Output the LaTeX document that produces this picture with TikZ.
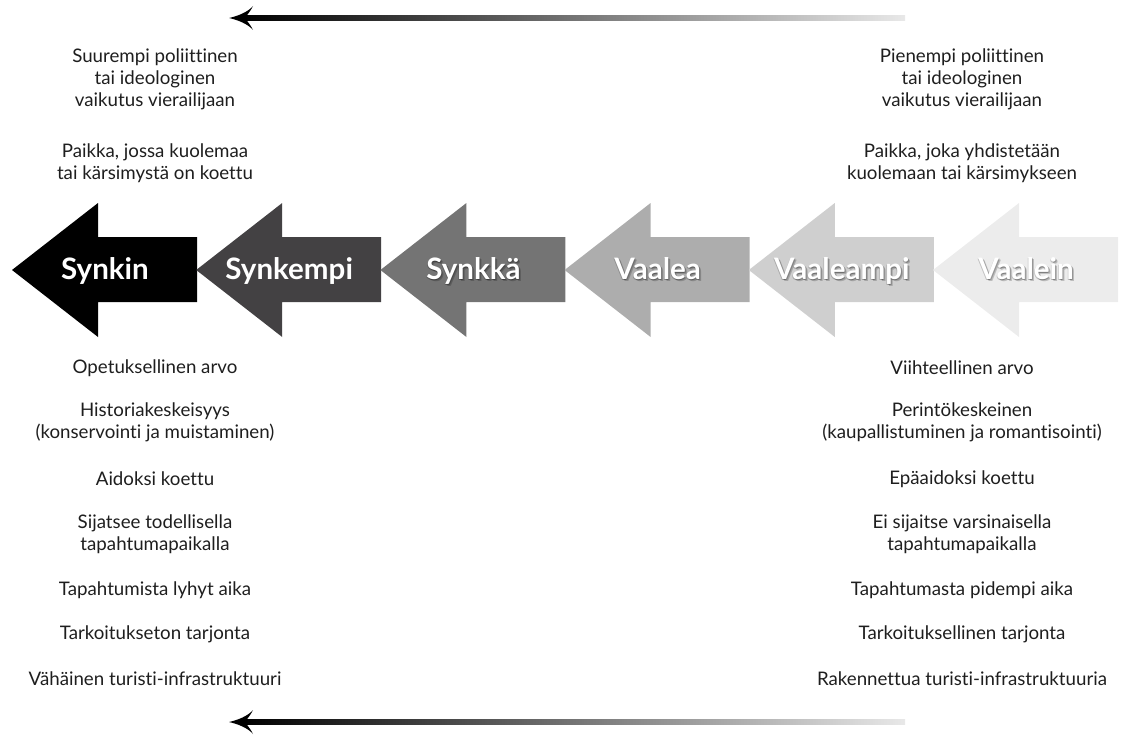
\documentclass[tikz,border=0pt]{standalone}
\usepackage{fontspec}
\setmainfont{Lato}[Ligatures=NoCommon]
\usetikzlibrary{calc}

\definecolor{tone0}{HTML}{000000}
\definecolor{tone1}{HTML}{434143}
\definecolor{tone2}{HTML}{747474}
\definecolor{tone3}{HTML}{ADADAD}
\definecolor{tone4}{HTML}{CFCFCF}
\definecolor{tone5}{HTML}{ECECEC}
\definecolor{ink}{HTML}{1E1E1E}

\tikzset{
  side/.style={font=\fontsize{13.3}{15.6}\selectfont, align=center, text=ink, inner sep=0pt},
  arrowtext/.style={font=\fontsize{21}{22}\selectfont\bfseries, text=white, inner sep=0pt, anchor=base},
  glowtext/.style={font=\fontsize{21}{22}\selectfont\bfseries, text=black, opacity=0.2, inner sep=0pt, anchor=base}
}

\begin{document}
\begin{tikzpicture}[x=0.025cm, y=-0.025cm]

    % 0. Frame of the picture (pixel units)
    \useasboundingbox (0,0) rectangle (1123,735);

    % 1. Six block arrows, darkest on the left
    \foreach \i/\name/\tone/\txt in {
        0/synkin/tone0/Synkin, 1/synkempi/tone1/Synkempi, 2/synkka/tone2/Synkkä,
        3/vaalea/tone3/Vaalea, 4/vaaleampi/tone4/Vaaleampi, 5/vaalein/tone5/Vaalein%
    } {
        \pgfmathsetmacro{\tx}{12+184.2*\i}
        \fill[\tone] (\tx,270) -- ++(86,-67) -- ++(0,34) -- ++(99,0)
            -- ++(0,65) -- ++(-99,0) -- ++(0,35) -- cycle;
        \coordinate (\name) at (\tx+93,279);
        % soft shadow behind the white words
        \ifnum\i>1
          \foreach \dx/\dy in {1/1.5, 2/2.5, -0.5/1} {
              \node[glowtext] at ($(\name)+(\dx,\dy)$) {\txt};
          }
        \fi
        \node[arrowtext] (\name-t) at (\name) {\txt};
    }

    % 2. Gradient arrows above and below
    \foreach \yy/\nm in {18/top, 722/bottom} {
        \coordinate (\nm-tail) at (905,\yy);
        \coordinate (\nm-tip) at (229,\yy);
        \shade[left color=black, right color=black!9]
            ($(\nm-tip)+(14,-2.2)$) rectangle ($(\nm-tail)+(0,2.2)$);
        \fill[black] (\nm-tip) .. controls +(9,-2) and +(-5,6) .. ++(24,-12)
            .. controls +(-4,8) and +(0,-3) .. ++(-7,12)
            .. controls +(0,3) and +(-4,-8) .. ++(7,12)
            .. controls +(-5,-6) and +(9,2) .. cycle;
    }

    % 3. Texts on the left (darker end)
    \foreach \y/\txt in {
        79/{Suurempi poliittinen\\tai ideologinen\\vaikutus vierailijaan},
        163/{Paikka, jossa kuolemaa\\tai kärsimystä on koettu},
        368/{Opetuksellinen arvo},
        422/{Historiakeskeisyys\\(konservointi ja muistaminen)},
        479/{Aidoksi koettu},
        534/{Sijatsee todellisella\\tapahtumapaikalla},
        590/{Tapahtumista lyhyt aika},
        634/{Tarkoitukseton tarjonta},
        679/{Vähäinen turisti-infrastruktuuri}%
    } {
        \node[side] (left-\y) at (155,\y) {\txt};
    }

    % 4. Texts on the right (lighter end)
    \foreach \y/\txt in {
        79/{Pienempi poliittinen\\tai ideologinen\\vaikutus vierailijaan},
        163/{Paikka, joka yhdistetään\\kuolemaan tai kärsimykseen},
        368/{Viihteellinen arvo},
        422/{Perintökeskeinen\\(kaupallistuminen ja romantisointi)},
        479/{Epäaidoksi koettu},
        534/{Ei sijaitse varsinaisella\\tapahtumapaikalla},
        590/{Tapahtumasta pidempi aika},
        634/{Tarkoituksellinen tarjonta},
        679/{Rakennettua turisti-infrastruktuuria}%
    } {
        \node[side] (right-\y) at (962,\y) {\txt};
    }

\end{tikzpicture}
\end{document}
